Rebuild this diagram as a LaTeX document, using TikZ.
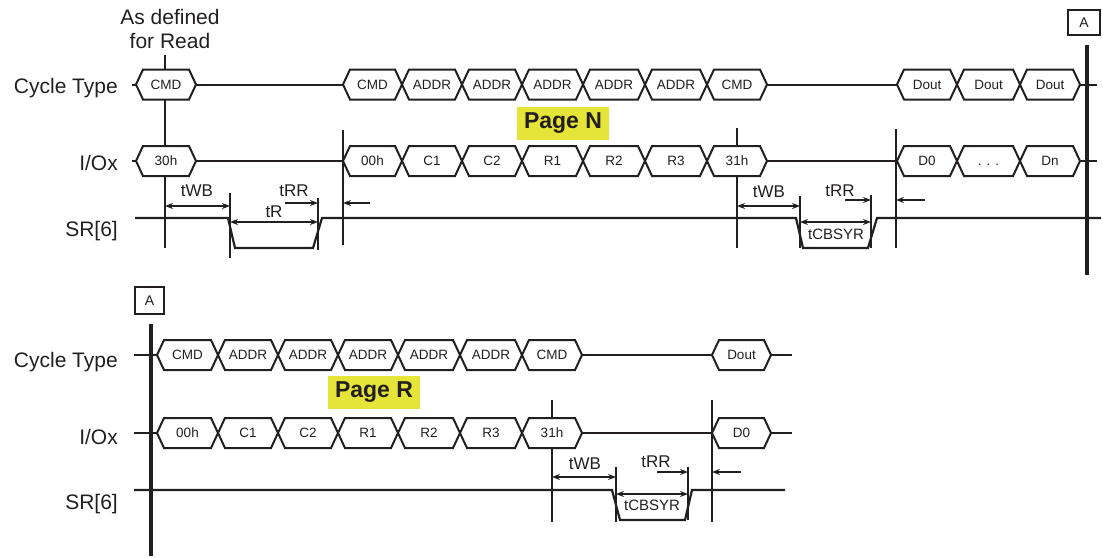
\documentclass[tikz,border=0pt]{standalone}
\usepackage{fontspec}
\setmainfont{Liberation Sans}
\usetikzlibrary{arrows.meta}
\definecolor{ink}{RGB}{35,31,32}
\definecolor{hl}{RGB}{229,228,56}
\newcommand\fsz[2]{\fontsize{#1}{#2}\selectfont}
\newcommand\busseg[5]{%
  \draw[hexline] (#2,#4) -- ({#2+7},{#4-15}) -- ({#3-7},{#4-15}) -- (#3,#4) -- ({#3-7},{#4+15}) -- ({#2+7},{#4+15}) -- cycle;
  \coordinate (#1-l) at (#2,#4);
  \coordinate (#1-r) at (#3,#4);
  \node[hextext] (#1) at ({(#2+#3)/2},#4) {#5};}
\tikzset{
  hexline/.style={draw=ink,fill=white,line width=2pt,line join=miter},
  hextext/.style={inner sep=0pt,text height=9.7pt,text depth=0pt,font=\fsz{13.5}{15},text=ink},
  busline/.style={draw=ink,line width=2pt},
  sig/.style={draw=ink,line width=2.2pt,line join=miter},
  thin/.style={draw=ink,line width=1.3pt},
  med/.style={draw=ink,line width=1.9pt},
  thick/.style={draw=ink,line width=3.8pt},
  rowlabel/.style={anchor=base east,inner sep=0pt,font=\fsz{21}{24},text=ink},
  tlabel/.style={inner sep=0pt,text height=12.2pt,text depth=0pt,font=\fsz{17}{19},text=ink},
  slabel/.style={inner sep=0pt,text height=10.7pt,text depth=0pt,font=\fsz{15}{17},text=ink},
  dim/.style={draw=ink,line width=1.3pt,{Stealth[length=8pt,width=6pt]}-{Stealth[length=8pt,width=6pt]}},
  sdim/.style={draw=ink,line width=1.3pt,-{Stealth[length=8pt,width=6pt]}},
  pagebox/.style={fill=hl,minimum width=92pt,minimum height=33pt,inner sep=0pt,font=\bfseries\fsz{23}{25},text=ink},
  abox/.style={draw=ink,line width=1.8pt,fill=white,inner sep=0pt,font=\fsz{14}{16},text=ink}
}
\begin{document}
\begin{tikzpicture}[x=1pt,y=-1pt]
\useasboundingbox (0,0) rectangle (1103,557);
% ================= TOP =================
\node[rowlabel] (lct1) at (118,93) {Cycle Type};
\node[rowlabel] (lio1) at (118,170) {I/Ox};
\node[rowlabel] (lsr1) at (118,236) {SR[6]};
\node[anchor=base,align=center,inner sep=0pt,font=\fsz{21}{24},text=ink] (asdef) at (170,48) {As defined\\for Read};
% vertical markers
\draw[thin] (165,55) -- (165,248);
\draw[thin] (230,193) -- (230,258);
\draw[thin] (318,198) -- (318,250);
\draw[thin] (343,130) -- (343,245);
\draw[thin] (737,128) -- (737,248);
\draw[thin] (800,196) -- (800,248);
\draw[thin] (871,195) -- (871,248);
\draw[med] (896,129) -- (896,248);
% cycle type bus
\coordinate (tcst) at (132,84.5);
\coordinate (tcend) at (1097,84.5);
\busseg{tc0}{136}{196}{84.5}{CMD}
\busseg{tc1}{343}{402}{84.5}{CMD}
\busseg{tc2}{402}{462}{84.5}{ADDR}
\busseg{tc3}{462}{522}{84.5}{ADDR}
\busseg{tc4}{522}{583}{84.5}{ADDR}
\busseg{tc5}{583}{645}{84.5}{ADDR}
\busseg{tc6}{645}{707}{84.5}{ADDR}
\busseg{tc7}{707}{767}{84.5}{CMD}
\busseg{tc8}{897}{957}{84.5}{Dout}
\busseg{tc9}{957}{1020}{84.5}{Dout}
\busseg{tc10}{1020}{1080}{84.5}{Dout}
\draw[busline] (tcst) -- (tc0-l);
\draw[busline] (tc0-r) -- (tc1-l);
\draw[busline] (tc7-r) -- (tc8-l);
\draw[busline] (tc10-r) -- (tcend);
% I/Ox bus
\coordinate (tist) at (132,161);
\coordinate (tiend) at (1097,161);
\busseg{ti0}{136}{196}{161}{30h}
\busseg{ti1}{343}{402}{161}{00h}
\busseg{ti2}{402}{462}{161}{C1}
\busseg{ti3}{462}{522}{161}{C2}
\busseg{ti4}{522}{583}{161}{R1}
\busseg{ti5}{583}{645}{161}{R2}
\busseg{ti6}{645}{707}{161}{R3}
\busseg{ti7}{707}{767}{161}{31h}
\busseg{ti8}{897}{957}{161}{D0}
\busseg{ti9}{957}{1020}{161}{. . .}
\busseg{ti10}{1020}{1080}{161}{Dn}
\draw[busline] (tist) -- (ti0-l);
\draw[busline] (ti0-r) -- (ti1-l);
\draw[busline] (ti7-r) -- (ti8-l);
\draw[busline] (ti10-r) -- (tiend);
% SR[6]
\draw[sig] (135,218) -- (228,218) -- (235,248) -- (313,248) -- (322,218) -- (796,218) -- (803,248) -- (868,248) -- (877,218) -- (1101,218);
% timing arrows
\coordinate (a1) at (165,206); \coordinate (a2) at (230,206);
\draw[dim] (a1) -- (a2);
\node[tlabel] (twb1) at (197,190) {tWB};
\coordinate (a3) at (230,222); \coordinate (a4) at (318,222);
\draw[dim] (a3) -- (a4);
\node[tlabel] (tr1) at (274,211) {tR};
\coordinate (a5) at (285,203); \coordinate (a6) at (318,203);
\draw[sdim] (a5) -- (a6);
\node[tlabel] (trr1) at (294,190) {tRR};
\coordinate (a7) at (370,203); \coordinate (a8) at (343,203);
\draw[sdim] (a7) -- (a8);
\coordinate (b1) at (737,206); \coordinate (b2) at (800,206);
\draw[dim] (b1) -- (b2);
\node[tlabel] (twb2) at (769,191) {tWB};
\coordinate (b3) at (845,200); \coordinate (b4) at (871,200);
\draw[sdim] (b3) -- (b4);
\node[tlabel] (trr2) at (840,190) {tRR};
\coordinate (b5) at (800,222); \coordinate (b6) at (871,222);
\draw[dim] (b5) -- (b6);
\node[slabel] (tcb1) at (836,234) {tCBSYR};
\coordinate (b7) at (925,200); \coordinate (b8) at (896,200);
\draw[sdim] (b7) -- (b8);
% page N
\node[pagebox] (pgn) at (563,123.5) {Page N};
% A marker
\draw[thick] (1087,45) -- (1087,275);
\node[abox,minimum width=32pt,minimum height=25pt] (atop) at (1084,22.5) {A};
% ================= BOTTOM =================
\node[rowlabel] (lct2) at (118,367) {Cycle Type};
\node[rowlabel] (lio2) at (118,444) {I/Ox};
\node[rowlabel] (lsr2) at (118,509) {SR[6]};
\draw[thin] (552,400) -- (552,522);
\draw[thin] (616,467) -- (616,522);
\draw[thin] (688,467) -- (688,520);
\draw[med] (712,400) -- (712,522);
% cycle type
\coordinate (bcst) at (134,355);
\coordinate (bcend) at (792,355);
\busseg{bc0}{157}{218}{355}{CMD}
\busseg{bc1}{218}{278}{355}{ADDR}
\busseg{bc2}{278}{338}{355}{ADDR}
\busseg{bc3}{338}{398}{355}{ADDR}
\busseg{bc4}{398}{460}{355}{ADDR}
\busseg{bc5}{460}{522}{355}{ADDR}
\busseg{bc6}{522}{582}{355}{CMD}
\busseg{bc7}{712}{771}{355}{Dout}
\draw[busline] (bcst) -- (bc0-l);
\draw[busline] (bc6-r) -- (bc7-l);
\draw[busline] (bc7-r) -- (bcend);
% I/Ox
\coordinate (bist) at (134,433);
\coordinate (biend) at (792,433);
\busseg{bi0}{157}{218}{433}{00h}
\busseg{bi1}{218}{278}{433}{C1}
\busseg{bi2}{278}{338}{433}{C2}
\busseg{bi3}{338}{398}{433}{R1}
\busseg{bi4}{398}{460}{433}{R2}
\busseg{bi5}{460}{522}{433}{R3}
\busseg{bi6}{522}{582}{433}{31h}
\busseg{bi7}{712}{771}{433}{D0}
\draw[busline] (bist) -- (bi0-l);
\draw[busline] (bi6-r) -- (bi7-l);
\draw[busline] (bi7-r) -- (biend);
% SR[6]
\draw[sig] (134,490) -- (612,490) -- (620,520) -- (685,520) -- (692,490) -- (785,490);
% timing
\coordinate (c1) at (552,477); \coordinate (c2) at (616,477);
\draw[dim] (c1) -- (c2);
\node[tlabel] (twb3) at (585,463) {tWB};
\coordinate (c3) at (657,472); \coordinate (c4) at (688,472);
\draw[sdim] (c3) -- (c4);
\node[tlabel] (trr3) at (656,461) {tRR};
\coordinate (c5) at (616,494); \coordinate (c6) at (688,494);
\draw[dim] (c5) -- (c6);
\node[slabel] (tcb2) at (652,505) {tCBSYR};
\coordinate (c7) at (741,472); \coordinate (c8) at (712,472);
\draw[sdim] (c7) -- (c8);
% page R
\node[pagebox] (pgr) at (374,392.5) {Page R};
% A marker
\draw[thick] (151,324) -- (151,556);
\node[abox,minimum width=29pt,minimum height=27pt] (abot) at (149.5,300.5) {A};
\end{tikzpicture}
\end{document}
